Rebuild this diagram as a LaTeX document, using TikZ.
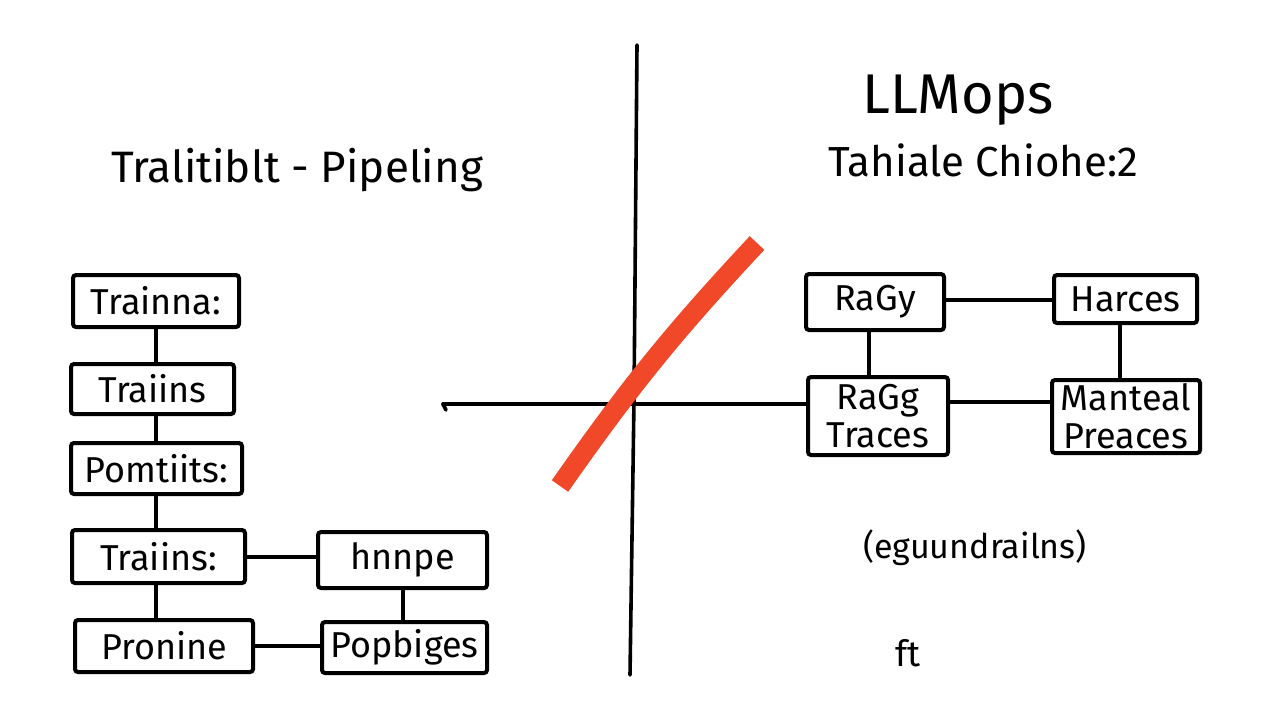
\documentclass[tikz,border=0pt]{standalone}
\usepackage{fontspec}
\setmainfont{Fira Sans}
\begin{document}
\begin{tikzpicture}[x=0.5pt,y=-0.5pt,
  box/.style={draw, line width=2pt, rounded corners=1.5pt, inner sep=0pt, align=center, font=\fontsize{18}{19}\selectfont},
  conn/.style={line width=2pt},
  axis/.style={line width=1.8pt, line cap=round},
  ttl/.style={inner sep=0pt, anchor=center}]
\useasboundingbox (0,0) rectangle (1280,720);
% titles
\node[ttl, font=\fontsize{22}{24}\selectfont] (t1) at (297,170) {Tralitiblt - Pipeling};
\node[ttl, font=\fontsize{28}{30}\selectfont] (t2) at (958,100) {LLMops};
\node[ttl, font=\fontsize{21}{23}\selectfont] (t3) at (983,160) {Tahiale Chiohe:2};
% left boxes
\node[box, minimum width=83pt, minimum height=26pt] (b1) at (156,301) {Trainna:};
\node[box, minimum width=81.5pt, minimum height=25pt] (b2) at (152.5,389) {Traiins};
\node[box, minimum width=85.5pt, minimum height=25.5pt] (b3) at (156.5,468.5) {Pomtiits:};
\node[box, minimum width=86.5pt, minimum height=26.5pt] (b4) at (158.5,556.5) {Traiins:};
\node[box, minimum width=84.5pt, minimum height=28pt] (b5) at (402.5,560) {hnnpe};
\node[box, minimum width=89pt, minimum height=26pt] (b6) at (164,646) {Pronine};
\node[box, minimum width=82.5pt, minimum height=25.5pt] (b7) at (404.5,647.5) {Popbiges};
\draw[conn] (b1.south) -- (b1.south |- b2.north);
\draw[conn] (b1.south |- b2.south) -- (b1.south |- b3.north);
\draw[conn] (b1.south |- b3.south) -- (b1.south |- b4.north);
\draw[conn] (b1.south |- b4.south) -- (b1.south |- b6.north);
\draw[conn] (b4.east) -- (b4.east -| b5.west);
\draw[conn] (b5.south) -- (b5.south |- b7.north);
\draw[conn] (b6.east) -- (b6.east -| b7.west);
% right boxes
\node[box, minimum width=69pt, minimum height=28pt] (r1) at (875,302) {RaGy};
\node[box, minimum width=71.5pt, minimum height=24pt] (r2) at (1125.5,299) {Harces};
\node[box, minimum width=70pt, minimum height=39pt] (r3) at (878,416) {RaGg\\Traces};
\node[box, minimum width=74pt, minimum height=36.5pt] (r4) at (1126,416.5) {Manteal\\Preaces};
\draw[conn] ([yshift=1pt]r1.east) -- ([yshift=1pt]r1.east -| r2.west);
\draw[conn] ([xshift=-3pt]r1.south) -- ([xshift=-3pt]r1.south |- r3.north);
\draw[conn] ([xshift=-3pt]r2.south) -- ([xshift=-3pt]r2.south |- r4.north);
\draw[conn] ([yshift=7pt]r3.east) -- ([yshift=7pt]r3.east -| r4.west);
% axes
\coordinate (axl) at (443,404);
\coordinate (axt) at (637,45);
\coordinate (axb) at (630,675);
\draw[axis] (axl) -- (axl -| r3.west);
\draw[axis] ([shift={(3,6)}]axl) -- (axl);
\draw[axis] (axt) -- (634,400) -- (axb);
% red stroke
\coordinate (rs1) at (560,486);
\coordinate (rs2) at (757,243);
\draw[line width=10pt, line cap=butt, color={rgb,255:red,240;green,72;blue,40}] (rs1) to[bend left=4] (rs2);
% bottom texts
\node[ttl, font=\fontsize{17}{19}\selectfont] (g1) at (975,548) {(eguundrailns)};
\node[ttl, font=\fontsize{18}{20}\selectfont] (g2) at (908,653) {ft};
\end{tikzpicture}
\end{document}
